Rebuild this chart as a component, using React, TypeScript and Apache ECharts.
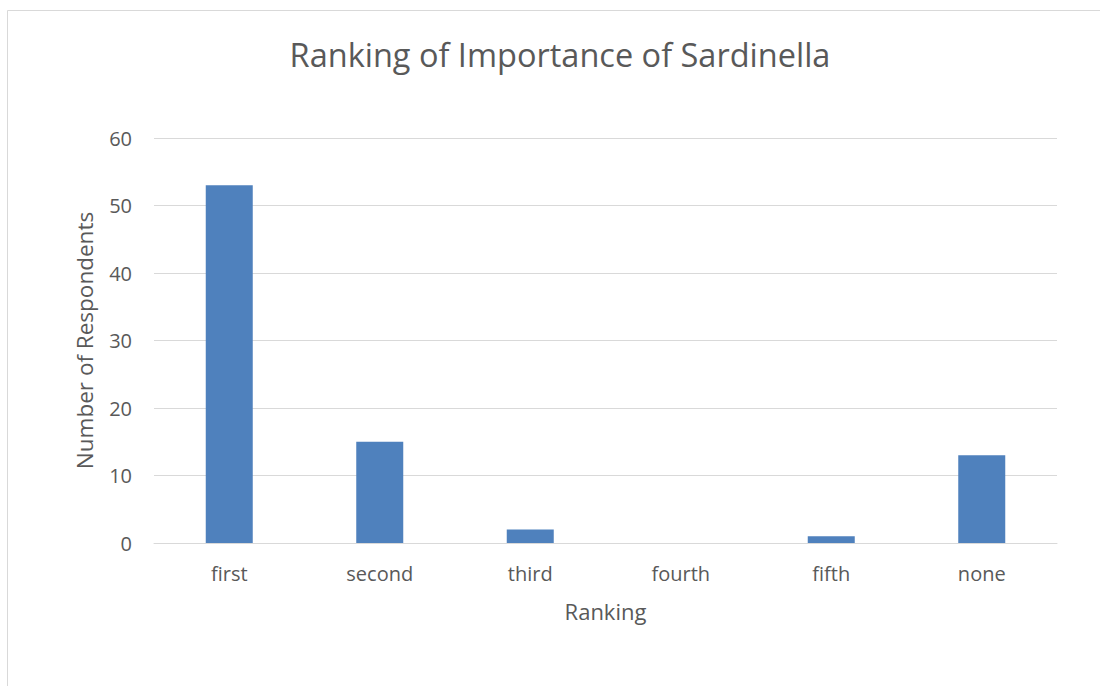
import React, { useEffect, useRef } from "react";
import * as echarts from "echarts";

const categories = ["first", "second", "third", "fourth", "fifth", "none"];
const respondents = [53, 15, 2, 0, 1, 13];
const yTicks = { min: 0, max: 60, interval: 10 };

export default function App() {
  const ref = useRef<HTMLDivElement>(null);
  useEffect(() => {
    if (!ref.current) return;
    const chart = echarts.init(ref.current, null, { renderer: "svg" });
    const font = "'Open Sans', 'Noto Sans', sans-serif";
    chart.setOption({
      animation: false,
      textStyle: { fontFamily: font },
      graphic: [
        {
          type: "rect",
          shape: { x: 7.5, y: 10.5, width: 1200, height: 800 },
          style: { fill: "none", stroke: "#d9d9d9", lineWidth: 1 },
          silent: true,
        },
      ],
      title: {
        text: "Ranking of Importance of Sardinella",
        left: 555,
        top: 33,
        textAlign: "center",
        textStyle: { fontFamily: font, fontSize: 32.5, fontWeight: "normal", color: "#595959" },
      },
      grid: { left: 154, right: 43, top: 138, bottom: 143, containLabel: false },
      xAxis: {
        type: "category",
        data: categories,
        name: "Ranking",
        nameLocation: "middle",
        nameGap: 57,
        nameTextStyle: { fontFamily: font, fontSize: 22, color: "#595959" },
        axisLine: { lineStyle: { color: "#d9d9d9", width: 1 } },
        axisTick: { show: false },
        axisLabel: { fontFamily: font, fontSize: 20, color: "#595959", margin: 20 },
      },
      yAxis: {
        type: "value",
        min: yTicks.min,
        max: yTicks.max,
        interval: yTicks.interval,
        name: "Number of Respondents",
        nameLocation: "middle",
        nameGap: 58,
        nameTextStyle: { fontFamily: font, fontSize: 22.5, color: "#595959" },
        axisLine: { show: false },
        axisTick: { show: false },
        axisLabel: { fontFamily: font, fontSize: 20, color: "#595959", margin: 22 },
        splitLine: { lineStyle: { color: "#d9d9d9", width: 1 } },
      },
      series: [
        {
          type: "bar",
          data: respondents,
          barWidth: 47,
          itemStyle: { color: "#4f81bd" },
        },
      ],
    });
    return () => chart.dispose();
  }, []);
  return (
    <div
      ref={ref}
      style={{ position: "fixed", left: 0, top: 0, width: 1100, height: 686, background: "#fff" }}
    />
  );
}
